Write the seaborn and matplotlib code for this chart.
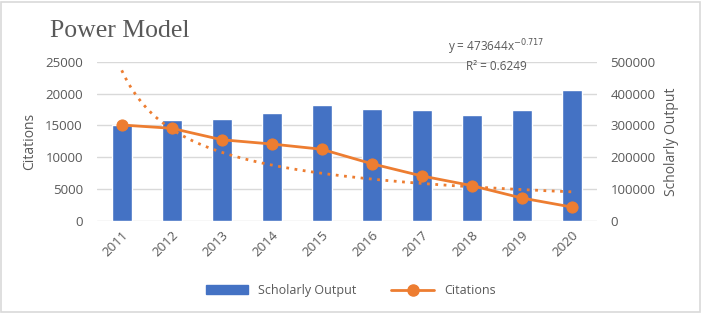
import matplotlib
matplotlib.use("Agg")
import matplotlib.pyplot as plt
import numpy as np
import pandas as pd
import seaborn as sns
from matplotlib.patches import Rectangle, Patch
from matplotlib.lines import Line2D

# Data
years = ['2011', '2012', '2013', '2014', '2015', '2016', '2017', '2018', '2019', '2020']
scholarly_output = [15100, 15900, 16050, 16950, 18150, 17600, 17500, 16700, 17400, 20600]
citations = [301500, 291000, 255000, 241500, 225000, 179500, 141000, 110500, 71500, 43000]
trend_a = 473644
trend_b = -0.717

df = pd.DataFrame({'Year': years,
                   'Scholarly Output': scholarly_output,
                   'Citations': citations})

sns.set_style('white')
plt.rcParams['font.family'] = ['Open Sans', 'DejaVu Sans']

blue = '#4472C4'
orange = '#ED7D31'
gray = '#595959'

fig = plt.figure(figsize=(7.01, 3.13), dpi=100)
ax = fig.add_axes([0.138, 0.295, 0.713, 0.507])

# Bars
sns.barplot(data=df, x='Year', y='Scholarly Output', color=blue, width=0.4,
            saturation=1, ax=ax, zorder=2)
ax.set_ylim(0, 25000)
ax.set_xlim(-0.5, 9.5)
ax.set_yticks(np.arange(0, 25001, 5000))
ax.grid(axis='y', color='#D9D9D9', linewidth=1, zorder=0)
ax.set_axisbelow(True)
for s in ax.spines.values():
    s.set_visible(False)
ax.tick_params(axis='y', length=0, labelsize=9.5, labelcolor=gray, pad=10)
ax.tick_params(axis='x', length=0, labelsize=9.5, labelcolor=gray, pad=6)
ax.set_xticks(range(len(years)))
ax.set_xticklabels(years, rotation=45, ha='right', rotation_mode='anchor')
ax.set_xlabel('')
ax.set_ylabel('Citations', fontsize=10, color=gray, labelpad=6)

# Line on secondary axis
ax2 = ax.twinx()
pos = np.arange(len(years))
sns.lineplot(x=pos, y=citations, color=orange, linewidth=2, marker='o',
             markersize=8, markeredgecolor=orange, ax=ax2, zorder=3)
xs = np.linspace(0, len(years) - 1, 200)
ax2.plot(xs, trend_a * (xs + 1) ** trend_b, color=orange, linestyle=(0, (1, 2)),
         linewidth=2, zorder=2)
ax2.set_ylim(0, 500000)
ax2.set_yticks(np.arange(0, 500001, 100000))
for s in ax2.spines.values():
    s.set_visible(False)
ax2.tick_params(length=0, labelsize=9.5, labelcolor=gray, pad=10)
ax2.set_ylabel('Scholarly Output', fontsize=10, color=gray, labelpad=6)
ax2.set_xlim(-0.5, 9.5)

# Trendline equation
ax2.text(7.5, 548000, 'y = 473644x$^{-0.717}$', ha='center', va='center',
         fontsize=8.5, color=gray)
ax2.text(7.5, 487000, 'R² = 0.6249', ha='center', va='center',
         fontsize=8.5, color=gray)

# Title
fig.text(0.071, 0.9, 'Power Model', fontsize=18.5, color=gray,
         family='Liberation Serif', va='center', ha='left')

# Legend
handles = [Patch(facecolor=blue, edgecolor=blue),
           Line2D([0], [0], color=orange, linewidth=2, marker='o', markersize=8)]
fig.legend(handles, ['Scholarly Output', 'Citations'], loc='center',
           bbox_to_anchor=(0.5, 0.072), ncol=2, frameon=False, fontsize=9,
           handlelength=3.4, columnspacing=2.8, labelcolor=gray)

# Border
fig.patches.append(Rectangle((0.002, 0.004), 0.996, 0.99, transform=fig.transFigure,
                             fill=False, edgecolor='#D9D9D9', linewidth=1.2))

fig.savefig('out.png', dpi=100)
